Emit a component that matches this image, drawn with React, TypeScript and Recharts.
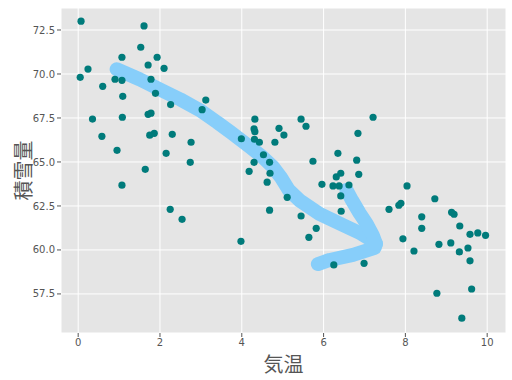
import React from 'react'
import { ComposedChart, Scatter, Line, XAxis, YAxis, CartesianGrid } from 'recharts'

// 気温 vs 積雪量 (readings from the scatter)
const temps = [
  0.07, 1.61, 1.53, 1.07, 1.93, 0.24, 1.71, 2.10, 0.05, 0.90, 1.07, 1.78, 0.60, 1.09, 1.89, 3.12,
  2.26, 3.03, 1.08, 1.71, 1.78, 0.35, 0.58, 1.75, 1.86, 2.30, 2.76, 0.95, 2.15, 2.74, 1.64, 1.07,
  3.99, 4.32, 4.30, 4.32, 4.31, 4.43, 4.91, 5.03, 4.81, 4.53, 4.30, 4.68, 4.18, 4.69, 4.62, 5.11,
  2.25, 2.54, 3.98, 4.68, 5.45, 5.57, 7.21, 6.84, 6.35, 5.74, 6.81, 6.86, 6.31, 6.42, 5.96, 6.23,
  6.38, 6.62, 8.04, 6.42, 8.72, 5.45, 5.82, 6.43, 7.60, 7.84, 7.89, 8.40, 8.40, 9.13, 9.19, 9.33,
  7.94, 9.58, 9.77, 9.96, 8.21, 8.82, 9.11, 9.32, 9.53, 9.58, 6.99, 8.77, 9.62, 9.38, 5.64, 6.25
]
const snow = [
  73.0, 72.73, 71.52, 70.95, 70.95, 70.28, 70.51, 70.32, 69.81, 69.70, 69.64, 69.70, 69.30, 68.73, 68.9, 68.52,
  68.26, 67.97, 67.54, 67.71, 67.77, 67.44, 66.46, 66.52, 66.63, 66.57, 66.12, 65.66, 65.49, 64.98, 64.58, 63.68,
  66.32, 67.43, 66.88, 66.72, 66.29, 66.12, 66.91, 66.53, 66.12, 65.41, 64.98, 64.98, 64.47, 64.36, 63.85, 62.99,
  62.31, 61.74, 60.49, 62.26, 67.43, 67.03, 67.54, 66.63, 65.49, 65.04, 65.10, 64.30, 64.15, 64.36, 63.73, 63.64,
  63.64, 63.69, 63.64, 63.07, 62.91, 61.93, 61.23, 62.20, 62.31, 62.54, 62.65, 61.88, 61.23, 62.14, 62.03, 61.36,
  60.63, 60.89, 60.97, 60.83, 59.94, 60.32, 60.40, 59.89, 60.11, 59.38, 59.24, 57.54, 57.78, 56.12, 60.72, 59.15
]

// hand-drawn arrow: shaft + lower head stroke, then upper head stroke
const arrowX = [0.94, 1.5, 2.0, 2.5, 2.97, 3.4, 3.75, 4.2, 4.5, 4.76, 4.95, 5.15, 5.42, 5.9, 6.47, 6.9, 7.15, 7.28, 7.25, 6.72, 6.15, 5.86]
const arrowY = [70.27, 69.7, 69.12, 68.55, 67.95, 67.25, 66.65, 65.85, 65.3, 64.72, 64.15, 63.4, 62.8, 62.05, 61.42, 60.95, 60.6, 60.35, 60.12, 59.72, 59.43, 59.2]
const headX = [6.56, 6.7, 6.88, 7.05, 7.2, 7.28]
const headY = [63.41, 62.8, 62.09, 61.5, 60.85, 60.35]

const xTicks = [0, 2, 4, 6, 8, 10]
const yTicks = [57.5, 60.0, 62.5, 65.0, 67.5, 70.0, 72.5]

const points = temps.map((x, i) => ({ x, y: snow[i] }))
const arrow = arrowX.map((x, i) => ({ x, y: arrowY[i] }))
const head = headX.map((x, i) => ({ x, y: headY[i] }))

const Dot = (p: any) => <circle cx={p.cx} cy={p.cy} r={3.6} fill="#007b7b" />

const labelStyle = { fill: '#555', fontSize: 20, fontFamily: 'Noto Sans CJK JP' }

const XLabel = (p: any) => {
  const vb = p.viewBox || { x: 61, y: 333, width: 445, height: 47 }
  return (
    <text x={vb.x + vb.width / 2} y={vb.y + 30} textAnchor="middle" dominantBaseline="central" {...labelStyle}>
      気温
    </text>
  )
}

const YLabel = (p: any) => {
  const vb = p.viewBox || { x: 0, y: 8, width: 61, height: 325 }
  const cx = vb.x + 22
  const cy = vb.y + vb.height / 2
  return (
    <text x={cx} y={cy} transform={`rotate(-90 ${cx} ${cy})`} textAnchor="middle" dominantBaseline="central" {...labelStyle}>
      積雪量
    </text>
  )
}

export default function App(): JSX.Element {
  const tick = { fill: '#555', fontSize: 10, fontFamily: 'DejaVu Sans' }
  return (
    <div style={{ position: 'absolute', left: 0, top: 0, width: 512, height: 380, background: '#fff' }}>
      <ComposedChart width={512} height={380} margin={{ top: 8, right: 6, left: 0, bottom: 0 }}>
        <CartesianGrid fill="#e5e5e5" stroke="#fff" strokeWidth={1} />
        <XAxis
          type="number"
          dataKey="x"
          domain={[-0.42, 10.46]}
          ticks={xTicks}
          allowDataOverflow
          axisLine={false}
          tickLine={{ stroke: '#555' }}
          tickSize={4}
          tick={tick}
          height={47}
          label={<XLabel />}
        />
        <YAxis
          type="number"
          dataKey="y"
          domain={[55.28, 73.75]}
          ticks={yTicks}
          allowDataOverflow
          axisLine={false}
          tickLine={{ stroke: '#555' }}
          tickSize={4}
          tick={tick}
          width={61}
          tickFormatter={(v: number) => v.toFixed(1)}
          label={<YLabel />}
        />
        <Scatter data={points} dataKey="y" shape={Dot} isAnimationActive={false} />
        <Line
          data={arrow}
          dataKey="y"
          type="linear"
          stroke="#87cefa"
          strokeWidth={14}
          strokeLinecap="round"
          strokeLinejoin="round"
          dot={false}
          activeDot={false}
          isAnimationActive={false}
        />
        <Line
          data={head}
          dataKey="y"
          type="linear"
          stroke="#87cefa"
          strokeWidth={14}
          strokeLinecap="round"
          strokeLinejoin="round"
          dot={false}
          activeDot={false}
          isAnimationActive={false}
        />
      </ComposedChart>
    </div>
  )
}
